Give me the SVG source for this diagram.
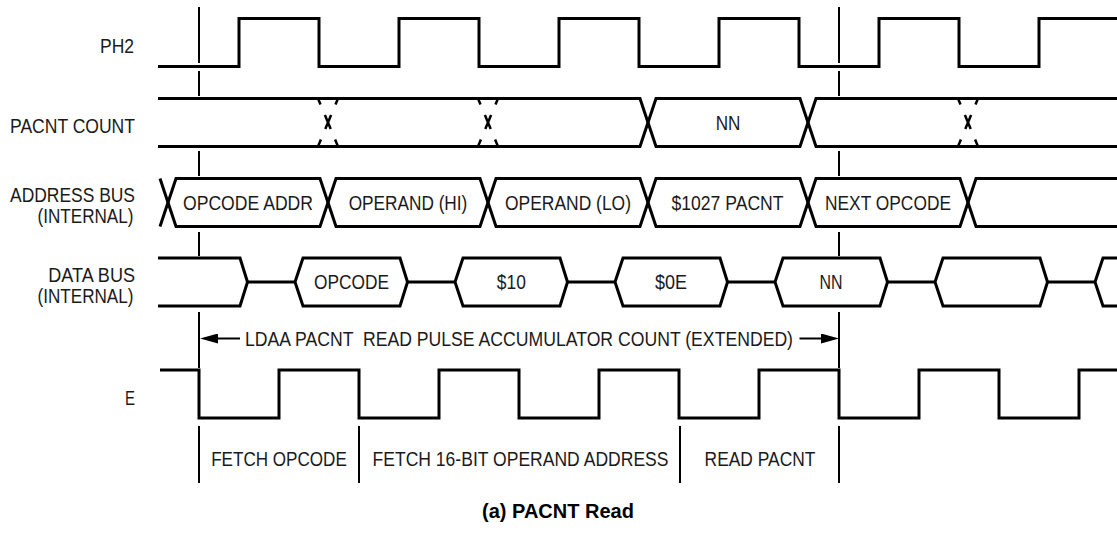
<svg xmlns="http://www.w3.org/2000/svg" xmlns:xlink="http://www.w3.org/1999/xlink" width="1117" height="542" viewBox="0 0 1117 542">
<style>
.sig{fill:none;stroke:#000;stroke-width:3;stroke-linejoin:miter}
.mk{fill:none;stroke:#000;stroke-width:2}
.sx{fill:none;stroke:#000;stroke-width:2.5}
.lbl{font-family:"Liberation Sans",Arial,sans-serif;font-size:20px;fill:#1a1a1a}
.r{text-anchor:end}
.c{text-anchor:middle}
.title{font-family:"Liberation Sans",Arial,sans-serif;font-size:20px;font-weight:bold;fill:#000;text-anchor:middle}
</style>
<defs>
<marker id="ah" viewBox="0 0 18 10" markerWidth="18" markerHeight="10" refX="12" refY="5" orient="auto" markerUnits="userSpaceOnUse">
<path d="M0,0 L18,5 L0,10 Z" fill="#000"/>
</marker>
<path id="smallx" d="M-10,98.5 L-7.5,104.5 M-3.1,115 L2.7,129 M7.1,139.5 L10,146.5 M10,98.5 L7.5,104.5 M3.1,115 L-2.7,129 M-7.1,139.5 L-10,146.5"/>
</defs>
<rect width="1117" height="542" fill="#fff"/>

<g id="labels">
<text class="lbl r" x="134" y="52.7" textLength="34" lengthAdjust="spacingAndGlyphs">PH2</text>
<text class="lbl r" x="135" y="132.7" textLength="125" lengthAdjust="spacingAndGlyphs">PACNT COUNT</text>
<text class="lbl r" x="135" y="202" textLength="125" lengthAdjust="spacingAndGlyphs">ADDRESS BUS</text>
<text class="lbl r" x="133.5" y="222.8" textLength="96" lengthAdjust="spacingAndGlyphs">(INTERNAL)</text>
<text class="lbl r" x="135" y="282" textLength="86.7" lengthAdjust="spacingAndGlyphs">DATA BUS</text>
<text class="lbl r" x="133.5" y="302.8" textLength="96" lengthAdjust="spacingAndGlyphs">(INTERNAL)</text>
<text class="lbl r" x="135" y="405" textLength="10" lengthAdjust="spacingAndGlyphs">E</text>
</g>

<g id="ph2">
<path class="sig" d="M158,66.5 H239 V18.5 H319 V66.5 H399 V18.5 H479 V66.5 H559 V18.5 H639 V66.5 H719 V18.5 H799 V66.5 H879 V18.5 H959 V66.5 H1039 V18.5 H1117"/>
</g>

<g id="pacnt-count">
<path class="sig" d="M158,98.5 H640 L648,122.5 L640,146.5 H158"/>
<path class="sig" d="M656,98.5 H800 L808,122.5 L800,146.5 H656 L648,122.5 Z"/>
<path class="sig" d="M1117,98.5 H816 L808,122.5 L816,146.5 H1117"/>
<use xlink:href="#smallx" href="#smallx" x="328" class="sx"/>
<use xlink:href="#smallx" href="#smallx" x="488" class="sx"/>
<use xlink:href="#smallx" href="#smallx" x="968" class="sx"/>
<text class="lbl c" x="728" y="130" textLength="24.7" lengthAdjust="spacingAndGlyphs">NN</text>
</g>

<g id="address-bus">
<path class="sig" d="M160,178.5 L168,202.5 L160,226.5"/>
<path class="sig" d="M176,178.5 H320 L328,202.5 L320,226.5 H176 L168,202.5 Z"/>
<path class="sig" d="M336,178.5 H480 L488,202.5 L480,226.5 H336 L328,202.5 Z"/>
<path class="sig" d="M496,178.5 H640 L648,202.5 L640,226.5 H496 L488,202.5 Z"/>
<path class="sig" d="M656,178.5 H800 L808,202.5 L800,226.5 H656 L648,202.5 Z"/>
<path class="sig" d="M816,178.5 H960 L968,202.5 L960,226.5 H816 L808,202.5 Z"/>
<path class="sig" d="M1117,178.5 H976 L968,202.5 L976,226.5 H1117"/>
<text class="lbl c" x="248" y="210" textLength="130" lengthAdjust="spacingAndGlyphs">OPCODE ADDR</text>
<text class="lbl c" x="408" y="210" textLength="118.7" lengthAdjust="spacingAndGlyphs">OPERAND (HI)</text>
<text class="lbl c" x="568" y="210" textLength="126" lengthAdjust="spacingAndGlyphs">OPERAND (LO)</text>
<text class="lbl c" x="727.5" y="210" textLength="112" lengthAdjust="spacingAndGlyphs">$1027 PACNT</text>
<text class="lbl c" x="888" y="210" textLength="126" lengthAdjust="spacingAndGlyphs">NEXT OPCODE</text>
</g>

<g id="data-bus">
<path class="sig" d="M158,258 H240 L247.5,282 L240,306 H158"/>
<path class="sig" d="M247.5,282 H295 M407.5,282 H455 M567.5,282 H615 M727.5,282 H775 M887.5,282 H935 M1047.5,282 H1095"/>
<path class="sig" d="M303,258 H400 L407.5,282 L400,306 H303 L295,282 Z"/>
<path class="sig" d="M463,258 H560 L567.5,282 L560,306 H463 L455,282 Z"/>
<path class="sig" d="M623,258 H720 L727.5,282 L720,306 H623 L615,282 Z"/>
<path class="sig" d="M783,258 H880 L887.5,282 L880,306 H783 L775,282 Z"/>
<path class="sig" d="M943,258 H1040 L1047.5,282 L1040,306 H943 L935,282 Z"/>
<path class="sig" d="M1117,258 H1103 L1095,282 L1103,306 H1117"/>
<text class="lbl c" x="351.5" y="289.3" textLength="75" lengthAdjust="spacingAndGlyphs">OPCODE</text>
<text class="lbl c" x="511.3" y="289.3" textLength="29" lengthAdjust="spacingAndGlyphs">$10</text>
<text class="lbl c" x="671" y="289.3" textLength="32" lengthAdjust="spacingAndGlyphs">$0E</text>
<text class="lbl c" x="831" y="289.3" textLength="23" lengthAdjust="spacingAndGlyphs">NN</text>
</g>

<g id="e-clock">
<path class="sig" d="M160,370 H199 V418 H279 V370 H359 V418 H439 V370 H519 V418 H599 V370 H679 V418 H759 V370 H839 V418 H919 V370 H999 V418 H1079 V370 H1117"/>
</g>

<g id="markers">
<path class="mk" d="M199,7 V63 M199,71 V96 M199,151 V176 M199,232 V256 M199,312 V368"/>
<path class="mk" d="M839,7 V63 M839,71 V96 M839,151 V176 M839,232 V256 M839,312 V368"/>
<path class="mk" d="M199,426 V483 M359,426 V483 M680,426 V483 M839,426 V483"/>
</g>

<g id="connectors">
<line class="mk" x1="240" y1="338.5" x2="206" y2="338.5" marker-end="url(#ah)"/>
<line class="mk" x1="799.5" y1="338.5" x2="833" y2="338.5" marker-end="url(#ah)"/>
</g>

<g id="instruction">
<text class="lbl c" x="519" y="345.7" textLength="548" lengthAdjust="spacingAndGlyphs" xml:space="preserve">LDAA PACNT  READ PULSE ACCUMULATOR COUNT (EXTENDED)</text>
</g>

<g id="phases">
<text class="lbl c" x="279" y="465.7" textLength="135.7" lengthAdjust="spacingAndGlyphs">FETCH OPCODE</text>
<text class="lbl c" x="520.5" y="465.7" textLength="296" lengthAdjust="spacingAndGlyphs">FETCH 16-BIT OPERAND ADDRESS</text>
<text class="lbl c" x="760" y="465.7" textLength="110.8" lengthAdjust="spacingAndGlyphs">READ PACNT</text>
</g>

<text class="title" x="558" y="518">(a) PACNT Read</text>
</svg>
